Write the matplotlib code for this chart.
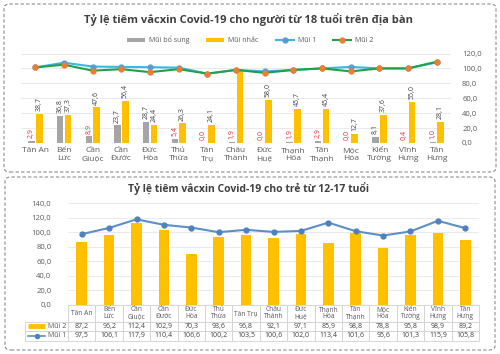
import matplotlib
matplotlib.use("Agg")
import matplotlib.pyplot as plt
import numpy as np
from matplotlib.patches import FancyBboxPatch
from matplotlib.lines import Line2D
from matplotlib.table import Table

plt.rcParams['font.family'] = ['Open Sans', 'DejaVu Sans']

# ---------------- data: top chart (>= 18 years) ----------------
districts = ["Tân An", "Bến\nLức", "Cần\nGiuộc", "Cần\nĐước", "Đức\nHòa", "Thủ\nThừa",
             "Tân\nTrụ", "Châu\nThành", "Đức\nHuệ", "Thạnh\nHóa", "Tân\nThạnh",
             "Mộc\nHóa", "Kiến\nTường", "Vĩnh\nHưng", "Tân\nHưng"]
bo_sung = [2.9, 36.8, 8.9, 23.7, 28.7, 5.4, 0.0, 1.9, 0.0, 1.9, 2.9, 0.0, 8.1, 0.4, 1.0]
nhac = [38.7, 37.3, 47.6, 56.4, 24.4, 26.3, 24.1, 98.0, 58.0, 45.7, 45.4, 12.7, 37.6, 55.0, 28.1]
mui1_adult = [101.3, 107.7, 102.5, 102.0, 101.7, 101.0, 93.0, 98.0, 96.0, 98.0, 100.0, 102.0, 100.0, 100.0, 108.0]
mui2_adult = [101.3, 105.0, 97.0, 99.0, 95.0, 99.0, 93.0, 98.0, 94.0, 98.0, 100.0, 96.0, 100.0, 100.0, 109.0]
bo_sung_label_red = [True, False, True, False, False, True, True, True, True, True, True, True, False, True, True]
show_nhac_label = [True] * 7 + [False] + [True] * 7
top_yticks = [0, 20, 40, 60, 80, 100, 120]

# ---------------- data: bottom chart (12-17 years) ----------------
districts2 = ["Tân An", "Bến\nLức", "Cần\nGiuộc", "Cần\nĐước", "Đức\nHòa", "Thủ\nThừa",
              "Tân Trụ", "Châu\nThành", "Đức\nHuệ", "Thạnh\nHóa", "Tân\nThạnh",
              "Mộc\nHóa", "Kiến\nTường", "Vĩnh\nHưng", "Tân\nHưng"]
mui2_teen = [87.2, 96.2, 112.4, 102.9, 70.3, 93.6, 96.8, 92.1, 97.1, 85.9, 98.8, 78.8, 95.8, 98.9, 89.2]
mui1_teen = [97.5, 106.1, 117.9, 110.4, 106.6, 100.2, 103.5, 100.6, 102.0, 113.4, 101.6, 95.6, 101.3, 115.9, 105.8]
bottom_yticks = [0, 20, 40, 60, 80, 100, 120, 140]

def vn(v):
    return f"{v:.1f}".replace(".", ",")

W, H = 500, 354
fig = plt.figure(figsize=(W / 100, H / 100), dpi=100)

def fx(px):
    return px / W

def fy(py):
    return 1 - py / H

# dashed rounded frames
for (x0, y0, x1, y1) in [(4, 4, 496, 172), (5, 177, 495, 350)]:
    box = FancyBboxPatch((fx(x0), fy(y1)), fx(x1) - fx(x0), fy(y0) - fy(y1),
                         boxstyle="round,pad=0,rounding_size=0.012",
                         transform=fig.transFigure, fill=False,
                         edgecolor="#8c8c8c", linestyle=(0, (3, 2)), linewidth=0.8)
    fig.add_artist(box)

GRAY = "#A5A5A5"
YEL = "#FFC000"
TXT = "#595959"

# ---------------- top chart ----------------
ax1 = fig.add_axes([fx(21), fy(143), fx(451) - fx(21), fy(53.5) - fy(143)])
x = np.arange(len(districts))
bw = 0.23
off = 0.135
b1 = ax1.bar(x - off, bo_sung, bw, color=GRAY, zorder=2, label="Mũi bổ sung")
b2 = ax1.bar(x + off, nhac, bw, color=YEL, zorder=2, label="Mũi nhắc")
l1, = ax1.plot(x, mui1_adult, color="#3DB5E6", lw=1.5, marker="o", ms=3.5,
               mfc="#5B9BD5", mec="#5B9BD5", zorder=4, label="Mũi 1")
l2, = ax1.plot(x, mui2_adult, color="#1FA04A", lw=1.5, marker="o", ms=3.5,
               mfc="#ED7D31", mec="#ED7D31", zorder=5, label="Mũi 2")
for i in range(len(districts)):
    ax1.annotate(vn(bo_sung[i]), (x[i] - off, bo_sung[i]), xytext=(0, 2),
                 textcoords="offset points", rotation=90, ha="center", va="bottom",
                 fontsize=5, color="#E0303A" if bo_sung_label_red[i] else "#404040")
    if show_nhac_label[i]:
        ax1.annotate(vn(nhac[i]), (x[i] + off, nhac[i]), xytext=(0, 2),
                     textcoords="offset points", rotation=90, ha="center", va="bottom",
                     fontsize=5, color="#404040")
ax1.set_xlim(-0.5, len(districts) - 0.5)
ax1.set_ylim(0, 120)
ax1.set_yticks(top_yticks)
ax1.set_yticklabels([vn(v) for v in top_yticks])
ax1.yaxis.tick_right()
ax1.tick_params(axis="y", length=0, labelsize=5.5, labelcolor=TXT, pad=8)
ax1.set_xticks(x)
ax1.set_xticklabels(districts, fontsize=6, color=TXT, linespacing=1.1)
ax1.tick_params(axis="x", length=0, pad=3)
ax1.grid(axis="y", color="#E6E6E6", lw=0.6, zorder=0)
for s in ax1.spines.values():
    s.set_visible(False)
ax1.set_axisbelow(True)

fig.text(fx(248), fy(19), "Tỷ lệ tiêm vắcxin Covid-19 cho người từ 18 tuổi trên địa bàn",
         ha="center", va="center", fontsize=8, fontweight="bold", color="#404040")

leg = fig.legend([b1, b2, l1, l2], ["Mũi bổ sung", "Mũi nhắc", "Mũi 1", "Mũi 2"],
                 loc="center", bbox_to_anchor=(fx(250), fy(40)), ncol=4,
                 frameon=False, fontsize=5, handlelength=2.6, handleheight=0.45,
                 columnspacing=2.4, handletextpad=0.6, labelcolor=TXT)

# ---------------- bottom chart ----------------
ax2 = fig.add_axes([fx(68), fy(305), fx(479) - fx(68), fy(203.3) - fy(305)])
x2 = np.arange(len(districts2))
ax2.bar(x2, mui2_teen, 0.38, color=YEL, zorder=2)
ax2.plot(x2, mui1_teen, color="#5B8FC9", lw=1.5, marker="o", ms=3.5,
         mfc="#4F81BD", mec="#4F81BD", zorder=4)
ax2.set_xlim(-0.5, len(districts2) - 0.5)
ax2.set_ylim(0, 140)
ax2.set_yticks(bottom_yticks)
ax2.set_yticklabels([vn(v) for v in bottom_yticks])
ax2.tick_params(axis="y", length=0, labelsize=5.5, labelcolor=TXT, pad=12)
ax2.set_xticks([])
ax2.grid(axis="y", color="#E6E6E6", lw=0.6, zorder=0)
ax2.set_axisbelow(True)
for s in ax2.spines.values():
    s.set_visible(False)

fig.text(fx(248), fy(188), "Tỷ lệ tiêm vắcxin Covid-19 cho trẻ từ 12-17 tuổi",
         ha="center", va="center", fontsize=7.5, fontweight="bold", color="#404040")

# data table
ax_w = 479 - 68
ax_h = 305 - 203.3
lab_w = 68 - 25
hdr_h, row_h = 16.5, 9.5
tot_h = hdr_h + 2 * row_h
tbl = Table(ax2, bbox=[-lab_w / ax_w, -tot_h / ax_h, (lab_w + ax_w) / ax_w, tot_h / ax_h])
col_w = ax_w / len(districts2)
EDGE = "#D0D0D0"
c = tbl.add_cell(0, 0, lab_w, hdr_h, text="")
c.visible_edges = ""
for j, name in enumerate(districts2):
    c = tbl.add_cell(0, j + 1, col_w, hdr_h, text=name, loc="center")
    c.get_text().set_fontsize(4.8)
    c.get_text().set_color(TXT)
    c.get_text().set_linespacing(1.0)
rows = [("Mũi 2", mui2_teen), ("Mũi 1", mui1_teen)]
for r, (lab, vals) in enumerate(rows, start=1):
    c = tbl.add_cell(r, 0, lab_w, row_h, text=lab, loc="right")
    c.get_text().set_fontsize(5)
    c.get_text().set_color(TXT)
    c.PAD = 0.05
    for j, v in enumerate(vals):
        c = tbl.add_cell(r, j + 1, col_w, row_h, text=vn(v), loc="center")
        c.get_text().set_fontsize(5)
        c.get_text().set_color("#404040")
for cell in tbl.get_celld().values():
    cell.set_edgecolor(EDGE)
    cell.set_linewidth(0.6)
    cell.set_facecolor("white")
tbl.auto_set_font_size(False)
ax2.add_table(tbl)

# legend keys inside the table row labels
fig.add_artist(Line2D([fx(28), fx(45)], [fy(326.2), fy(326.2)], color=YEL, lw=3.5,
                      transform=fig.transFigure, solid_capstyle="butt"))
fig.add_artist(Line2D([fx(28), fx(45)], [fy(335.8), fy(335.8)], color="#5B8FC9", lw=1.2,
                      transform=fig.transFigure))
fig.add_artist(Line2D([fx(36.5)], [fy(335.8)], color="#4F81BD", marker="o", ms=3,
                      transform=fig.transFigure))

fig.savefig("out.png", dpi=100)
